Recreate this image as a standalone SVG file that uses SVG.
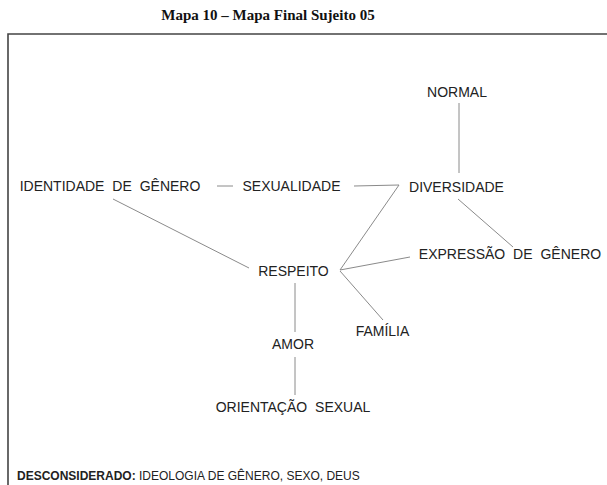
<svg xmlns="http://www.w3.org/2000/svg" width="607" height="485" viewBox="0 0 607 485">
<style>
.node text{font-family:"Liberation Sans",Arial,sans-serif;font-size:14px;fill:#222;text-anchor:middle;word-spacing:4px}
#connectors line,#connectors path{stroke:#8a8a8a;stroke-width:1;fill:none}
.title{font-family:"Liberation Serif","Times New Roman",serif;font-weight:bold;font-size:15px;fill:#111;text-anchor:middle}
.foot{font-family:"Liberation Sans",Arial,sans-serif;font-size:12px;fill:#222}
</style>
<rect width="607" height="485" fill="#fff"/>
<text class="title" x="268" y="20">Mapa 10 – Mapa Final Sujeito 05</text>
<path d="M8,485 V34 H607" stroke="#444" stroke-width="1.6" fill="none"/>
<g id="connectors">
<line x1="459" y1="103" x2="459" y2="173"/>
<line x1="217" y1="186" x2="233" y2="186"/>
<path d="M354,186 L399,185 L340,270"/>
<line x1="458" y1="199" x2="513" y2="247"/>
<line x1="340" y1="270" x2="410" y2="257"/>
<line x1="340" y1="271" x2="383" y2="320"/>
<line x1="113" y1="199" x2="249" y2="268"/>
<line x1="295" y1="283" x2="295" y2="332"/>
<line x1="295" y1="357" x2="295" y2="395"/>
</g>
<g id="normal" class="node"><text x="457" y="97">NORMAL</text></g>
<g id="identidade" class="node"><text x="110" y="191">IDENTIDADE DE GÊNERO</text></g>
<g id="sexualidade" class="node"><text x="291.5" y="191">SEXUALIDADE</text></g>
<g id="diversidade" class="node"><text x="456.5" y="192">DIVERSIDADE</text></g>
<g id="expressao" class="node"><text x="510" y="259">EXPRESSÃO DE GÊNERO</text></g>
<g id="respeito" class="node"><text x="293.5" y="276">RESPEITO</text></g>
<g id="familia" class="node"><text x="382.5" y="336">FAMÍLIA</text></g>
<g id="amor" class="node"><text x="293" y="349">AMOR</text></g>
<g id="orientacao" class="node"><text x="293" y="412">ORIENTAÇÃO SEXUAL</text></g>
<text class="foot" x="17" y="480"><tspan font-weight="bold">DESCONSIDERADO:</tspan> IDEOLOGIA DE GÊNERO, SEXO, DEUS</text>
</svg>
